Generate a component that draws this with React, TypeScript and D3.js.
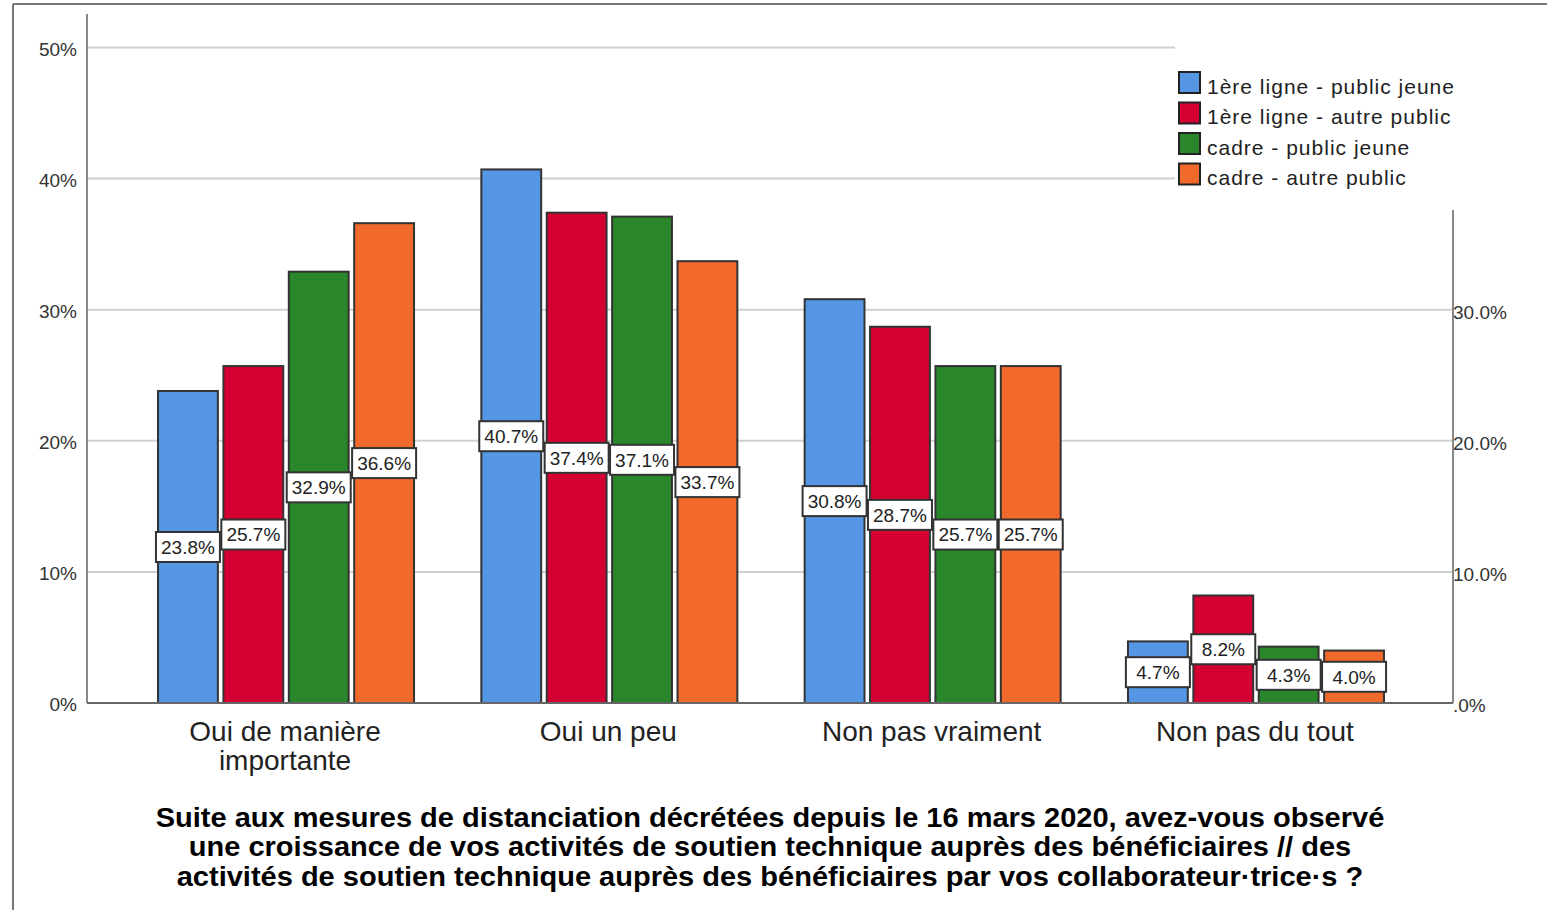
import React from 'react';
import * as d3 from 'd3';

// data
const categories = ['Oui de manière importante', 'Oui un peu', 'Non pas vraiment', 'Non pas du tout'];
const categoryLines = [['Oui de manière', 'importante'], ['Oui un peu'], ['Non pas vraiment'], ['Non pas du tout']];
const seriesNames = ['1ère ligne - public jeune', '1ère ligne - autre public', 'cadre - public jeune', 'cadre - autre public'];
const seriesColors = ['#5596e5', '#d50032', '#29862a', '#f2692c'];
const publicJeune1 = [23.8, 40.7, 30.8, 4.7];
const autrePublic1 = [25.7, 37.4, 28.7, 8.2];
const cadreJeune = [32.9, 37.1, 25.7, 4.3];
const cadreAutre = [36.6, 33.7, 25.7, 4.0];
const leftTicks = [0, 10, 20, 30, 40, 50];
const rightTicks = [0, 10, 20, 30];
const rightTickLabels = ['.0%', '10.0%', '20.0%', '30.0%'];
const titleLines = [
  'Suite aux mesures de distanciation décrétées depuis le 16 mars 2020, avez-vous observé',
  'une croissance de vos activités de soutien technique auprès des bénéficiaires // des',
  'activités de soutien technique auprès des bénéficiaires par vos collaborateur·trice·s ?',
];

const seriesValues = [publicJeune1, autrePublic1, cadreJeune, cadreAutre];

const W = 1547;
const H = 910;
const plotLeft = 87;
const plotRight = 1453;
const font = '"Liberation Sans", Arial, sans-serif';

const App: React.FC = () => {
  const y = d3.scaleLinear().domain([0, 50]).range([703, 47.5]);
  const x = d3.scalePoint<string>().domain(categories).range([plotLeft, plotRight]).padding(0.6125);
  const inner = d3.scaleBand<number>().domain([0, 1, 2, 3]).range([-127, 129]).paddingInner(0.085);
  const bw = inner.bandwidth();

  return (
    <div style={{ position: 'absolute', left: 0, top: 0 }}>
      <svg width={W} height={H} style={{ display: 'block', background: '#fff' }}>
        {/* outer frame */}
        <line x1={13} y1={4} x2={W} y2={4} stroke="#777" strokeWidth={2} />
        <line x1={13} y1={4} x2={13} y2={H} stroke="#777" strokeWidth={2} />

        {/* gridlines */}
        {leftTicks.filter(t => t > 0).map(t => (
          <line key={'g' + t} x1={plotLeft} x2={t >= 40 ? 1175 : plotRight} y1={y(t)} y2={y(t)} stroke="#d0d0d0" strokeWidth={2} />
        ))}

        {/* left axis */}
        <line x1={plotLeft} y1={14} x2={plotLeft} y2={703} stroke="#888" strokeWidth={2} />
        {leftTicks.map(t => (
          <text key={'l' + t} x={77} y={y(t) + 1.5} dy="0.36em" textAnchor="end" fontFamily={font} fontSize={19} fill="#333">
            {t + '%'}
          </text>
        ))}

        {/* right axis */}
        <line x1={plotRight} y1={210} x2={plotRight} y2={703} stroke="#888" strokeWidth={2} />
        {rightTicks.map((t, i) => (
          <text key={'r' + t} x={plotRight} y={y(t) + 2} dy="0.36em" textAnchor="start" fontFamily={font} fontSize={19} fill="#333">
            {rightTickLabels[i]}
          </text>
        ))}

        {/* bars */}
        {categories.map((c, ci) => (
          <g key={c} transform={`translate(${x(c)},0)`}>
            {seriesValues.map((vals, si) => (
              <rect
                key={si}
                x={(inner(si) as number)}
                y={y(vals[ci])}
                width={bw}
                height={y(0) - y(vals[ci])}
                fill={seriesColors[si]}
                stroke="#333"
                strokeWidth={2}
              />
            ))}
          </g>
        ))}

        {/* bottom axis */}
        <line x1={plotLeft} y1={703} x2={plotRight} y2={703} stroke="#666" strokeWidth={2} />

        {/* value labels */}
        {categories.map((c, ci) => (
          <g key={'v' + c} transform={`translate(${x(c)},0)`}>
            {seriesValues.map((vals, si) => {
              const cx = (inner(si) as number) + bw / 2;
              const cy = (y(vals[ci]) + y(0)) / 2;
              return (
                <g key={si}>
                  <rect x={cx - 32} y={cy - 15} width={64} height={30} fill="#fff" stroke="#333" strokeWidth={2} />
                  <text x={cx} y={cy} dy="0.36em" textAnchor="middle" fontFamily={font} fontSize={19} fill="#222">
                    {vals[ci].toFixed(1) + '%'}
                  </text>
                </g>
              );
            })}
          </g>
        ))}

        {/* category labels */}
        {categories.map((c, ci) => (
          <text key={'c' + c} x={x(c)} y={741} textAnchor="middle" fontFamily={font} fontSize={28} fill="#222">
            {categoryLines[ci].map((ln, li) => (
              <tspan key={li} x={x(c)} dy={li === 0 ? 0 : 29}>{ln}</tspan>
            ))}
          </text>
        ))}

        {/* legend */}
        {seriesNames.map((s, i) => (
          <g key={s} transform={`translate(1179,${72 + i * 30.5})`}>
            <rect x={0} y={0} width={21} height={21} fill={seriesColors[i]} stroke="#222" strokeWidth={2} />
            <text x={28} y={14} dy="0.36em" fontFamily={font} fontSize={21} letterSpacing={1} fill="#222">{s}</text>
          </g>
        ))}

        {/* title */}
        <g transform="translate(770,0) scale(1.075,1)">
          {titleLines.map((t, i) => (
            <text key={i} x={0} y={827 + i * 29.5} textAnchor="middle" fontFamily={font} fontSize={27} fontWeight="bold" fill="#000">
              {t}
            </text>
          ))}
        </g>
      </svg>
    </div>
  );
};

export default App;
